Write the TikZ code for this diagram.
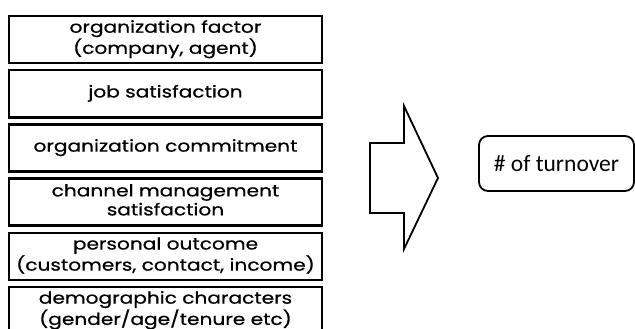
\documentclass[tikz,border=0pt]{standalone}
\usepackage{fontspec}
\setmainfont[FakeStretch=1.22,FakeBold=0.6]{Poppins}
\newfontfamily\calib{Carlito}
\usepackage{tikz}
\usetikzlibrary{positioning}
\tikzstyle{every factor} = []
\tikzstyle{factor} = [rectangle, draw, black, line width=2.6pt,
minimum width=313pt, minimum height=47pt, inner sep=0pt,
font=\fontsize{16.5}{19}\selectfont,
every factor]
\tikzstyle{outcome} = [rectangle, draw, black, line width=1.8pt, rounded corners=9pt,
minimum width=155pt, minimum height=55pt,
font=\calib\fontsize{23.5}{26}\selectfont]
\tikzstyle{bigarrow} = [draw, black, line width=1.8pt, line join=miter]
% centred lines with struts, so one and two line labels sit alike
\newcommand{\lines}[1]{\raisebox{-2pt}{\begin{tabular}{@{}c@{}}#1\end{tabular}}}

\begin{document}
\begin{tikzpicture}[x=1pt, y=-1pt, node distance=4.6pt]
	\useasboundingbox (0,0) rectangle (635,329);
	\node[factor] (org) at (165.5,39.5) {\lines{organization factor\\(company, agent)}};
	\node[factor] (job) [below=of org] {\lines{job satisfaction}};
	\node[factor] (commit) [below=of job] {\lines{organization commitment}};
	\node[factor] (channel) [below=of commit] {\lines{channel management\\satisfaction}};
	\node[factor] (personal) [below=of channel] {\lines{personal outcome\\(customers, contact, income)}};
	\node[factor] (demo) [below=of personal] {\lines{demographic characters\\(gender/age/tenure etc)}};

	% block arrow between the factors and the result
	\draw[bigarrow] (370,143) -- (404,143) -- (404,106) -- (438,178)
		-- (404,249) -- (404,213) -- (370,213) -- cycle;

	\node[outcome] (turnover) at (556.5,163.5) {\# of turnover};
\end{tikzpicture}
\end{document}
